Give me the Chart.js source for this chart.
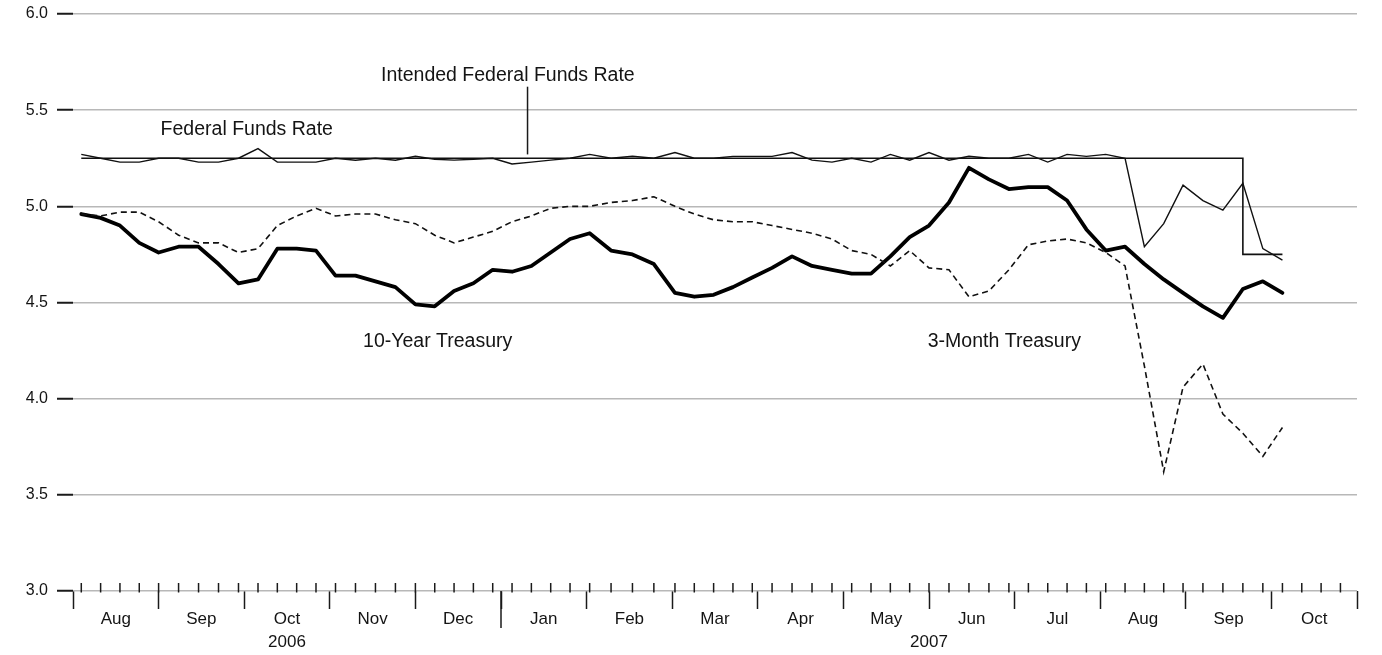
<!DOCTYPE html>
<html>
<head>
<meta charset="utf-8">
<script src="https://cdn.jsdelivr.net/npm/chart.js@4.4.1/dist/chart.umd.min.js"></script>
<style>
  body { margin: 0; background: #fff; }
  canvas { display: block; }
</style>
</head>
<body>
<canvas id="rates" width="1382" height="655"></canvas>
<script>
// weekly observations (Fridays)
const weeks = [
  '2006-08-04', '2006-08-11', '2006-08-18', '2006-08-25',
  '2006-09-01', '2006-09-08', '2006-09-15', '2006-09-22', '2006-09-29',
  '2006-10-06', '2006-10-13', '2006-10-20', '2006-10-27',
  '2006-11-03', '2006-11-10', '2006-11-17', '2006-11-24',
  '2006-12-01', '2006-12-08', '2006-12-15', '2006-12-22', '2006-12-29',
  '2007-01-05', '2007-01-12', '2007-01-19', '2007-01-26',
  '2007-02-02', '2007-02-09', '2007-02-16', '2007-02-23',
  '2007-03-02', '2007-03-09', '2007-03-16', '2007-03-23', '2007-03-30',
  '2007-04-06', '2007-04-13', '2007-04-20', '2007-04-27',
  '2007-05-04', '2007-05-11', '2007-05-18', '2007-05-25',
  '2007-06-01', '2007-06-08', '2007-06-15', '2007-06-22', '2007-06-29',
  '2007-07-06', '2007-07-13', '2007-07-20', '2007-07-27',
  '2007-08-03', '2007-08-10', '2007-08-17', '2007-08-24', '2007-08-31',
  '2007-09-07', '2007-09-14', '2007-09-21', '2007-09-28',
  '2007-10-05'
];
// axis keeps weekly ticks to the end of October
const extraTickWeeks = ['2007-10-12', '2007-10-19', '2007-10-26'];

const tenYear = [
  4.96, 4.94, 4.90, 4.81,
  4.76, 4.79, 4.79, 4.70, 4.60,
  4.62, 4.78, 4.78, 4.77,
  4.64, 4.64, 4.61, 4.58,
  4.49, 4.48, 4.56, 4.60, 4.67,
  4.66, 4.69, 4.76, 4.83,
  4.86, 4.77, 4.75, 4.70,
  4.55, 4.53, 4.54, 4.58, 4.63,
  4.68, 4.74, 4.69, 4.67,
  4.65, 4.65, 4.74, 4.84,
  4.90, 5.02, 5.20, 5.14, 5.09,
  5.10, 5.10, 5.03, 4.88,
  4.77, 4.79, 4.70, 4.62, 4.55,
  4.48, 4.42, 4.57, 4.61,
  4.55
];

const threeMonth = [
  4.96, 4.95, 4.97, 4.97,
  4.92, 4.85, 4.81, 4.81, 4.76,
  4.78, 4.90, 4.95, 4.99,
  4.95, 4.96, 4.96, 4.93,
  4.91, 4.85, 4.81, 4.84, 4.87,
  4.92, 4.95, 4.99, 5.00,
  5.00, 5.02, 5.03, 5.05,
  5.00, 4.96, 4.93, 4.92, 4.92,
  4.90, 4.88, 4.86, 4.83,
  4.77, 4.75, 4.69, 4.77,
  4.68, 4.67, 4.53, 4.56, 4.67,
  4.80, 4.82, 4.83, 4.81,
  4.76, 4.69, 4.17, 3.62, 4.06,
  4.18, 3.92, 3.82, 3.70,
  3.85
];

const fedFunds = [
  5.27, 5.25, 5.23, 5.23,
  5.25, 5.25, 5.23, 5.23, 5.25,
  5.30, 5.23, 5.23, 5.23,
  5.25, 5.24, 5.25, 5.24,
  5.26, 5.245, 5.24, 5.245, 5.25,
  5.22, 5.23, 5.24, 5.25,
  5.27, 5.25, 5.26, 5.25,
  5.28, 5.25, 5.25, 5.26, 5.26,
  5.26, 5.28, 5.24, 5.23,
  5.25, 5.23, 5.27, 5.24,
  5.28, 5.24, 5.26, 5.25, 5.25,
  5.27, 5.23, 5.27, 5.26,
  5.27, 5.25, 4.79, 4.91, 5.11,
  5.03, 4.98, 5.12, 4.78,
  4.72
];

// target rate only changes once, drawn as a step line
const intendedWeeks = ['2006-08-04', '2007-09-21', '2007-10-05'];
const intendedRate = [5.25, 4.75, 4.75];

const monthLabels = ['Aug', 'Sep', 'Oct', 'Nov', 'Dec', 'Jan', 'Feb', 'Mar',
  'Apr', 'May', 'Jun', 'Jul', 'Aug', 'Sep', 'Oct'];
const yearLabels = [['2006', 2.5], ['2007', 10]];
const yearBreak = 5; // Jan 2007
const yTicks = [3.0, 3.5, 4.0, 4.5, 5.0, 5.5, 6.0];

const notes = [
  { text: 'Intended Federal Funds Rate', x: 5.08, y: 5.682 },
  { text: 'Federal Funds Rate', x: 2.03, y: 5.40 },
  { text: '10-Year Treasury', x: 4.26, y: 4.297 },
  { text: '3-Month Treasury', x: 10.88, y: 4.297 }
];
const pointer = { x: 5.31, from: 5.27, to: 5.622 };

const FONT = '"Liberation Sans", Arial, Helvetica, sans-serif';

// months since Aug 2006, each month the same width
function monthPos(s) {
  const [y, m, d] = s.split('-').map(Number);
  const days = new Date(y, m, 0).getDate();
  return (y - 2006) * 12 + (m - 8) + (d - 1) / days;
}

const toPoints = (dates, vals) => vals.map((v, i) => ({ x: monthPos(dates[i]), y: v }));

const decorations = {
  id: 'decorations',
  afterDraw(chart) {
    const { ctx, chartArea, scales: { x, y } } = chart;
    const line = (x1, y1, x2, y2) => {
      ctx.beginPath();
      ctx.moveTo(x1, y1);
      ctx.lineTo(x2, y2);
      ctx.stroke();
    };
    ctx.save();
    ctx.strokeStyle = '#1a1a1a';
    ctx.lineWidth = 1.5;
    weeks.concat(extraTickWeeks).forEach((d) => {
      const px = x.getPixelForValue(monthPos(d));
      line(px, chartArea.bottom - 8, px, chartArea.bottom + 1.5);
    });
    const yb = x.getPixelForValue(yearBreak);
    line(yb, chartArea.bottom, yb, chartArea.bottom + 37);

    const pp = x.getPixelForValue(pointer.x);
    line(pp, y.getPixelForValue(pointer.from), pp, y.getPixelForValue(pointer.to));

    ctx.fillStyle = '#141414';
    ctx.font = '19.5px ' + FONT;
    ctx.textAlign = 'center';
    ctx.textBaseline = 'middle';
    notes.forEach((n) => ctx.fillText(n.text, x.getPixelForValue(n.x), y.getPixelForValue(n.y)));
    ctx.restore();
  }
};

new Chart(document.getElementById('rates'), {
  type: 'line',
  data: {
    datasets: [
      {
        label: 'Intended Federal Funds Rate',
        data: toPoints(intendedWeeks, intendedRate),
        borderColor: '#111',
        borderWidth: 1.6,
        stepped: true,
        pointRadius: 0
      },
      {
        label: 'Federal Funds Rate',
        data: toPoints(weeks, fedFunds),
        borderColor: '#111',
        borderWidth: 1.4,
        pointRadius: 0
      },
      {
        label: '3-Month Treasury',
        data: toPoints(weeks, threeMonth),
        borderColor: '#111',
        borderWidth: 1.6,
        borderDash: [6, 4],
        pointRadius: 0
      },
      {
        label: '10-Year Treasury',
        data: toPoints(weeks, tenYear),
        borderColor: '#000',
        borderWidth: 3.8,
        borderJoinStyle: 'round',
        borderCapStyle: 'round',
        pointRadius: 0
      }
    ]
  },
  options: {
    responsive: false,
    animation: false,
    devicePixelRatio: 1,
    layout: {
      padding: { top: 14, right: 25, left: 0, bottom: 0 }
    },
    scales: {
      x: {
        type: 'linear',
        min: 0,
        max: 15,
        afterBuildTicks: (axis) => {
          const t = [];
          for (let i = 0; i <= 15; i++) {
            t.push({ value: i });
            if (i < 15) t.push({ value: i + 0.5 });
          }
          axis.ticks = t;
        },
        afterFit: (axis) => { axis.height = 64; },
        border: { display: false },
        grid: {
          drawOnChartArea: false,
          tickLength: 18,
          tickWidth: 1.5,
          tickColor: (c) => (c.tick && c.tick.value % 1 === 0 ? '#1a1a1a' : 'rgba(0,0,0,0)')
        },
        ticks: {
          autoSkip: false,
          maxRotation: 0,
          minRotation: 0,
          padding: -2,
          color: '#141414',
          font: { family: FONT, size: 17, lineHeight: 1.39 },
          callback: (value) => {
            const year = yearLabels.find((yl) => yl[1] === value);
            if (value % 1 === 0) return year ? ['', year[0]] : '';
            const month = monthLabels[Math.floor(value)];
            return year ? [month, year[0]] : month;
          }
        }
      },
      y: {
        min: 3,
        max: 6,
        afterBuildTicks: (axis) => {
          axis.ticks = yTicks.map((v) => ({ value: v }));
        },
        afterFit: (axis) => {
          axis.width = 73;
          axis.paddingTop = 0;
          axis.paddingBottom = 0;
        },
        border: { display: false },
        grid: {
          color: '#b8b8b8',
          lineWidth: 1.5,
          tickLength: 16,
          tickWidth: 2,
          tickColor: '#1a1a1a'
        },
        ticks: {
          padding: 9,
          color: '#141414',
          font: { family: FONT, size: 16 },
          callback: (v) => v.toFixed(1)
        }
      }
    },
    plugins: {
      legend: { display: false },
      tooltip: { enabled: false }
    }
  },
  plugins: [decorations]
});
</script>
</body>
</html>
